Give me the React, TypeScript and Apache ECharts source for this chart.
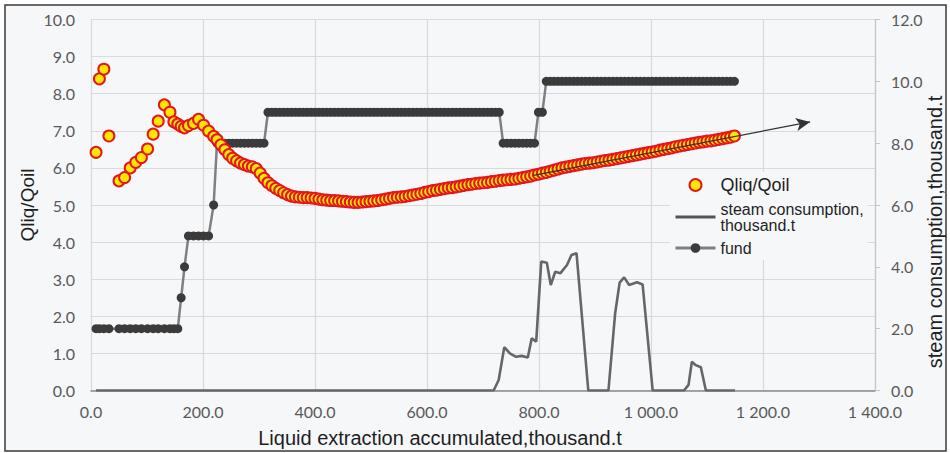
import React, { useEffect, useRef } from "react";
import * as echarts from "echarts";

// Shared x values (liquid extraction accumulated, thousand t)
const xs = [
  9, 15, 23, 32, 50, 60, 70, 80, 90, 101, 111, 120, 131, 141, 148, 155, 161, 167, 174, 183, 192, 201, 210, 219,
  225, 232, 239, 246, 253, 260, 267, 274, 281, 288,
  295, 302, 309, 316, 323, 330, 337, 344, 351, 358,
  365, 372, 379, 386, 393, 400, 407, 414, 421, 428,
  435, 442, 449, 456, 463, 470, 477, 484, 491, 498,
  505, 512, 519, 526, 533, 540, 547, 554, 561, 568,
  575, 582, 589, 596, 603, 610, 617, 624, 631, 638,
  645, 652, 659, 666, 673, 680, 687, 694, 701, 708,
  715, 722, 729, 736, 743, 750, 757, 764, 771, 778,
  785, 792, 799, 806, 813, 820, 827, 834, 841, 848,
  855, 862, 869, 876, 883, 890, 897, 904, 911, 918,
  925, 932, 939, 946, 953, 960, 967, 974, 981, 988,
  995, 1002, 1009, 1016, 1023, 1030, 1037, 1044, 1051, 1058,
  1065, 1072, 1079, 1086, 1093, 1100, 1107, 1114, 1121, 1128,
  1135, 1142, 1149,
];

// Qliq/Qoil ratio
const qliqQoil = [
  6.42, 8.40, 8.66, 6.86, 5.65, 5.74, 6.00, 6.15, 6.28, 6.51, 6.91, 7.26, 7.70, 7.50, 7.24, 7.18, 7.12, 7.08, 7.14, 7.20, 7.31, 7.15, 6.99, 6.85,
  6.76, 6.62, 6.49, 6.36, 6.26, 6.19, 6.13, 6.09, 6.05, 6.03,
  5.98, 5.86, 5.72, 5.60, 5.52, 5.45, 5.39, 5.33, 5.28, 5.24,
  5.22, 5.21, 5.20, 5.20, 5.19, 5.18, 5.16, 5.14, 5.13, 5.12,
  5.12, 5.11, 5.10, 5.09, 5.08, 5.07, 5.07, 5.08, 5.09, 5.10,
  5.11, 5.12, 5.14, 5.16, 5.18, 5.20, 5.21, 5.22, 5.23, 5.25,
  5.27, 5.29, 5.31, 5.34, 5.36, 5.39, 5.40, 5.42, 5.44, 5.46,
  5.47, 5.49, 5.51, 5.53, 5.55, 5.56, 5.58, 5.59, 5.60, 5.61,
  5.63, 5.64, 5.66, 5.67, 5.68, 5.69, 5.70, 5.72, 5.74, 5.76,
  5.78, 5.81, 5.83, 5.86, 5.88, 5.91, 5.94, 5.97, 6.00, 6.02,
  6.04, 6.06, 6.08, 6.10, 6.12, 6.13, 6.14, 6.16, 6.18, 6.20,
  6.21, 6.23, 6.25, 6.27, 6.29, 6.31, 6.33, 6.35, 6.37, 6.39,
  6.41, 6.43, 6.45, 6.48, 6.50, 6.52, 6.54, 6.57, 6.59, 6.61,
  6.63, 6.65, 6.67, 6.69, 6.70, 6.72, 6.73, 6.75, 6.77, 6.79,
  6.81, 6.83, 6.86,
];

// Well fund (right axis)
const fund = [
  2, 2, 2, 2, 2, 2, 2, 2, 2, 2, 2, 2, 2, 2, 2, 2, 3, 4, 5, 5, 5, 5, 5, 6,
  8, 8, 8, 8, 8, 8, 8, 8, 8, 8,
  8, 8, 8, 9, 9, 9, 9, 9, 9, 9,
  9, 9, 9, 9, 9, 9, 9, 9, 9, 9,
  9, 9, 9, 9, 9, 9, 9, 9, 9, 9,
  9, 9, 9, 9, 9, 9, 9, 9, 9, 9,
  9, 9, 9, 9, 9, 9, 9, 9, 9, 9,
  9, 9, 9, 9, 9, 9, 9, 9, 9, 9,
  9, 9, 9, 8, 8, 8, 8, 8, 8, 8,
  8, 8, 9, 9, 10, 10, 10, 10, 10, 10,
  10, 10, 10, 10, 10, 10, 10, 10, 10, 10,
  10, 10, 10, 10, 10, 10, 10, 10, 10, 10,
  10, 10, 10, 10, 10, 10, 10, 10, 10, 10,
  10, 10, 10, 10, 10, 10, 10, 10, 10, 10,
  10, 10, 10,
];

// Steam consumption, thousand t (right axis)
const steamX = [9, 719, 728, 738, 748, 759, 769, 780, 787, 795, 804, 814, 821, 829, 838, 850, 858, 867, 888, 924, 936, 944, 952, 961, 975, 985, 1003, 1059, 1067, 1073, 1080, 1089, 1098, 1150];
const steamY = [0, 0, 0.34, 1.40, 1.20, 1.09, 1.12, 1.07, 1.69, 1.58, 4.17, 4.13, 3.41, 3.84, 3.79, 4.06, 4.38, 4.44, 0, 0, 2.50, 3.49, 3.66, 3.41, 3.50, 3.43, 0, 0, 0.18, 0.93, 0.82, 0.75, 0, 0];

// Trend arrow
const trendX = [790, 1284];
const trendY = [5.80, 7.24];

const NAME_Q = "Qliq/Qoil";
const NAME_S = "steam consumption,\nthousand.t";
const NAME_F = "fund";

const fmtX = (v: number) => {
  if (v >= 1000) {
    const th = Math.floor(v / 1000);
    const rest = String(v % 1000).padStart(3, "0");
    return `${th} ${rest}.0`;
  }
  return v.toFixed(1);
};

export default function App() {
  const ref = useRef<HTMLDivElement>(null);
  useEffect(() => {
    if (!ref.current) return;
    const chart = echarts.init(ref.current, undefined, { renderer: "svg" });
    const bg = "#f6f7f9";
    const tickFont = "Lato";
    const option: any = {
      animation: false,
      backgroundColor: "#ffffff",
      grid: { left: 91, right: 75, top: 19.5, bottom: 62.5, containLabel: false },
      xAxis: {
        type: "value",
        min: 0,
        max: 1400,
        interval: 200,
        axisLine: { show: true, onZero: false, lineStyle: { color: "#8a8a8a", width: 1.5 } },
        axisTick: { show: false },
        axisLabel: { formatter: fmtX, color: "#595959", fontSize: 16, fontFamily: tickFont, margin: 13 },
        splitLine: { show: true, lineStyle: { color: "#d8dadd", width: 1.2 } },
      },
      yAxis: [
        {
          type: "value",
          min: 0,
          max: 10,
          interval: 1,
          axisLine: { show: false },
          axisTick: { show: false },
          axisLabel: { formatter: (v: number) => v.toFixed(1), color: "#595959", fontSize: 16, fontFamily: tickFont, margin: 16 },
          splitLine: { show: true, lineStyle: { color: "#d8dadd", width: 1.2 } },
        },
        {
          type: "value",
          min: 0,
          max: 12,
          interval: 2,
          position: "right",
          axisLine: { show: true, lineStyle: { color: "#c4c6c9", width: 1.2 } },
          axisTick: { show: true, inside: false, length: 5, lineStyle: { color: "#c4c6c9" } },
          axisLabel: { formatter: (v: number) => v.toFixed(1), color: "#595959", fontSize: 16, fontFamily: tickFont, margin: 16 },
          splitLine: { show: false },
        },
      ],
      legend: {
        orient: "vertical",
        left: 670,
        top: 172,
        itemWidth: 40,
        itemHeight: 12,
        itemGap: 7,
        backgroundColor: bg,
        padding: [4, 4, 4, 4],
        data: [
          NAME_Q,
          {
            name: NAME_S,
            itemStyle: { opacity: 0, color: "rgba(0,0,0,0)", borderWidth: 0 },
            lineStyle: { color: "#555555", width: 3 },
          },
          { name: NAME_F, lineStyle: { color: "#7d8085", width: 3 } },
        ],
        formatter: (name: string) => {
          if (name === NAME_Q) return "{a|Qliq/Qoil}";
          if (name === NAME_S) return "{b|steam consumption,}\n{b|thousand.t}";
          return "{b|fund}";
        },
        textStyle: {
          color: "#1f1f1f",
          fontFamily: "Liberation Sans",
          rich: {
            a: { fontSize: 18, fontFamily: "Liberation Sans", color: "#1f1f1f", lineHeight: 20 },
            b: { fontSize: 16, fontFamily: "Liberation Sans", color: "#1f1f1f", lineHeight: 16 },
          },
        },
      },
      graphic: [
        {
          type: "rect",
          z: -10,
          shape: { x: 5, y: 5, width: 941, height: 446 },
          style: { fill: bg, stroke: "#3a3a3a", lineWidth: 1.5 },
          silent: true,
        },
        {
          type: "text",
          x: 440,
          y: 438,
          style: {
            text: "Liquid extraction accumulated,thousand.t",
            font: '20px "Liberation Sans"',
            fill: "#1f1f1f",
            align: "center",
            verticalAlign: "middle",
          },
        },
        {
          type: "text",
          x: 27,
          y: 205,
          rotation: Math.PI / 2,
          style: {
            text: "Qliq/Qoil",
            font: '19px "Liberation Sans"',
            fill: "#1f1f1f",
            align: "center",
            verticalAlign: "middle",
          },
        },
        {
          type: "text",
          x: 935,
          y: 232,
          rotation: Math.PI / 2,
          style: {
            text: "steam consumption,thousand.t",
            font: '20px "Liberation Sans"',
            fill: "#1f1f1f",
            align: "center",
            verticalAlign: "middle",
          },
        },
      ],
      series: [
        {
          name: NAME_S,
          type: "line",
          yAxisIndex: 1,
          symbol: "none",
          data: steamX.map((x, i) => [x, steamY[i]]),
          lineStyle: { color: "#666666", width: 2.6 },
          itemStyle: { color: "#666666" },
          z: 2,
        },
        {
          name: NAME_F,
          type: "line",
          yAxisIndex: 1,
          symbol: "circle",
          symbolSize: 9,
          showAllSymbol: true,
          data: xs.map((x, i) => [x, fund[i]]),
          lineStyle: { color: "#7d8085", width: 2.5 },
          itemStyle: { color: "#3b3b3b" },
          z: 3,
        },
        {
          name: NAME_Q,
          type: "scatter",
          yAxisIndex: 0,
          symbol: "circle",
          symbolSize: 11,
          data: xs.map((x, i) => [x, qliqQoil[i]]),
          itemStyle: { color: "#ffe600", borderColor: "#e3161c", borderWidth: 2, opacity: 1 },
          z: 4,
          markLine: {
            silent: true,
            symbol: ["none", "arrow"],
            symbolSize: [10, 14],
            label: { show: false },
            lineStyle: { color: "#333333", width: 1.3, type: "solid" },
            data: [[{ coord: [trendX[0], trendY[0]] }, { coord: [trendX[1], trendY[1]] }]],
          },
        },
      ],
    };
    chart.setOption(option);
    return () => chart.dispose();
  }, []);
  return (
    <div
      ref={ref}
      style={{ position: "fixed", left: 0, top: 0, width: 950, height: 453, background: "#ffffff" }}
    />
  );
}
